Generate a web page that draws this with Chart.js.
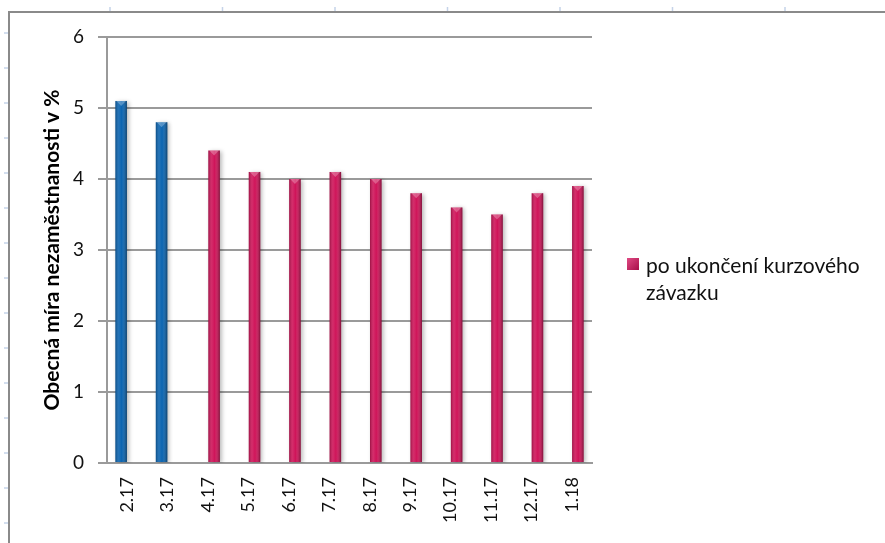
<!DOCTYPE html>
<html>
<head>
<meta charset="utf-8">
<script src="https://cdn.jsdelivr.net/npm/chart.js@4.4.1/dist/chart.umd.min.js"></script>
<style>
  body { margin: 0; background: #fff; }
  canvas { display: block; }
</style>
</head>
<body>
<canvas id="barchart" width="885" height="543"></canvas>
<script>
var months = ['2.17', '3.17', '4.17', '5.17', '6.17', '7.17', '8.17', '9.17', '10.17', '11.17', '12.17', '1.18'];
var beforeEnd = [5.1, 4.8, null, null, null, null, null, null, null, null, null, null];
var afterEnd = [null, null, 4.4, 4.1, 4.0, 4.1, 4.0, 3.8, 3.6, 3.5, 3.8, 3.9];
var yTicks = [0, 1, 2, 3, 4, 5, 6];

var blue = '#0b64b0';
var crimson = '#cf1459';
var gridGray = '#9a9a9a';

// sheet frame + ruler marks behind the chart
var framePlugin = {
  id: 'frame',
  beforeDraw: function (chart) {
    var ctx = chart.ctx;
    ctx.save();
    ctx.fillStyle = '#fff';
    ctx.fillRect(0, 0, chart.width, chart.height);
    ctx.strokeStyle = '#8a8a8a';
    ctx.lineWidth = 2;
    ctx.beginPath();
    ctx.moveTo(9, chart.height);
    ctx.lineTo(9, 12);
    ctx.lineTo(chart.width, 12);
    ctx.stroke();
    ctx.strokeStyle = '#c5d3e8';
    ctx.lineWidth = 1.5;
    for (var y = 33; y < chart.height; y += 35) {
      ctx.beginPath(); ctx.moveTo(4, y); ctx.lineTo(8, y); ctx.stroke();
    }
    for (var x = 110; x < chart.width; x += 112.5) {
      ctx.beginPath(); ctx.moveTo(x, 7); ctx.lineTo(x, 11); ctx.stroke();
    }
    ctx.restore();
  }
};

// soft shadow under the bars, then a cylinder-like shading on top
var shadePlugin = {
  id: 'shade',
  beforeDatasetsDraw: function (chart) {
    var ctx = chart.ctx;
    ctx.save();
    ctx.shadowColor = 'rgba(0,0,0,0.28)';
    ctx.shadowBlur = 4;
    ctx.shadowOffsetX = 2;
    ctx.shadowOffsetY = 1;
  },
  afterDatasetsDraw: function (chart) {
    var ctx = chart.ctx;
    ctx.restore();
    ctx.save();
    chart.data.datasets.forEach(function (ds, di) {
      chart.getDatasetMeta(di).data.forEach(function (bar, i) {
        if (ds.data[i] == null) return;
        var w = bar.width, x0 = bar.x - w / 2, top = bar.y, h = bar.base - bar.y;
        var g = ctx.createLinearGradient(x0, 0, x0 + w, 0);
        g.addColorStop(0, 'rgba(0,0,0,0.25)');
        g.addColorStop(0.3, 'rgba(255,255,255,0.1)');
        g.addColorStop(0.55, 'rgba(255,255,255,0.0)');
        g.addColorStop(1, 'rgba(0,0,0,0.38)');
        ctx.fillStyle = g;
        ctx.fillRect(x0, top, w, h);
        ctx.fillStyle = 'rgba(255,255,255,0.28)';
        ctx.beginPath();
        ctx.moveTo(x0 + 1, top);
        ctx.lineTo(x0 + w - 1, top);
        ctx.lineTo(bar.x, top + 5);
        ctx.closePath();
        ctx.fill();
      });
    });
    ctx.restore();
  }
};

// legend on the right, wrapped over two lines
var legendPlugin = {
  id: 'sideLegend',
  afterDraw: function (chart) {
    var ctx = chart.ctx;
    var ds = chart.data.datasets[1];
    ctx.save();
    ctx.font = '21px Lato';
    var words = ds.label.split(' '), lines = [], line = '';
    words.forEach(function (wd) {
      var test = line ? line + ' ' + wd : wd;
      if (ctx.measureText(test).width > 228 && line) { lines.push(line); line = wd; }
      else line = test;
    });
    lines.push(line);
    var g = ctx.createLinearGradient(627, 258, 639, 270);
    g.addColorStop(0, '#e04a84');
    g.addColorStop(1, '#a80e48');
    ctx.fillStyle = g;
    ctx.fillRect(627, 258, 12, 12);
    ctx.fillStyle = '#111';
    ctx.textBaseline = 'middle';
    lines.forEach(function (t, k) {
      ctx.fillText(t, 646, 266 + k * 27);
    });
    ctx.restore();
  }
};

new Chart(document.getElementById('barchart'), {
  type: 'bar',
  data: {
    labels: months,
    datasets: [
      { label: 'před ukončením kurzového závazku', data: beforeEnd, backgroundColor: blue },
      { label: 'po ukončení kurzového závazku', data: afterEnd, backgroundColor: crimson }
    ]
  },
  options: {
    responsive: false,
    animation: false,
    categoryPercentage: 0.6,
    barPercentage: 0.95,
    layout: { padding: { top: 37, right: 293, left: 0, bottom: 0 } },
    font: { family: 'Lato' },
    plugins: {
      legend: { display: false },
      tooltip: { enabled: false }
    },
    scales: {
      x: {
        grid: { display: false, drawTicks: false },
        border: { color: gridGray, width: 2 },
        ticks: {
          color: '#111',
          font: { family: 'Lato', size: 18 },
          minRotation: 90,
          maxRotation: 90,
          autoSkip: false,
          padding: 14
        },
        afterFit: function (s) { s.height = 80; }
      },
      y: {
        min: 0,
        max: 6,
        afterBuildTicks: function (s) { s.ticks = yTicks.map(function (v) { return { value: v }; }); },
        grid: { color: gridGray, lineWidth: 2, tickLength: 9 },
        border: { color: gridGray, width: 2 },
        ticks: {
          color: '#111',
          font: { family: 'Lato', size: 19 },
          padding: 14
        },
        title: {
          display: true,
          text: 'Obecná míra nezaměstnanosti v %',
          color: '#000',
          font: { family: 'Lato', size: 21, weight: 'bold' },
          padding: { top: 40, bottom: 0 }
        },
        afterFit: function (s) { s.width = 107; }
      }
    }
  },
  plugins: [framePlugin, shadePlugin, legendPlugin]
});
</script>
</body>
</html>
